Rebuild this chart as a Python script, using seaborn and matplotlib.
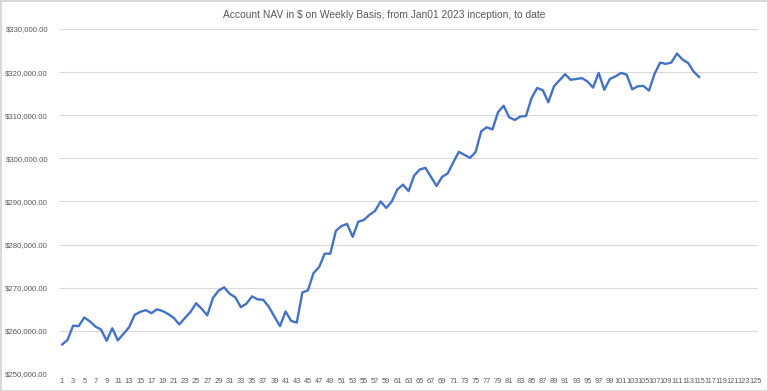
"""Account NAV line chart, weekly basis (Excel-style look)."""

import matplotlib
matplotlib.use("Agg")
import matplotlib.pyplot as plt
from matplotlib.ticker import FuncFormatter
import numpy as np
import pandas as pd
import seaborn as sns

TITLE = "Account NAV in $ on Weekly Basis, from Jan01 2023 inception, to date"

# weekly NAV values (weeks 1..115)
nav = [
    256800, 257900, 261200, 261100, 263100, 262200, 261000, 260300, 257700, 260600,
    257800, 259300, 260800, 263700, 264400, 264800, 264100, 265000, 264600, 263900,
    263000, 261500, 263000, 264400, 266400, 265100, 263600, 267600, 269300, 270100,
    268600, 267800, 265500, 266300, 268000, 267300, 267200, 265600, 263300, 261100,
    264500, 262300, 261900, 268900, 269400, 273400, 274800, 277900, 277900, 283200,
    284300, 284800, 281800, 285300, 285700, 286900, 287800, 290000, 288500, 290000,
    292800, 293900, 292400, 296000, 297400, 297800, 295700, 293600, 295700, 296500,
    299100, 301500, 300800, 300100, 301500, 306300, 307200, 306700, 310700, 312200,
    309500, 308900, 309700, 309800, 314000, 316300, 315800, 313000, 316700, 318100,
    319500, 318200, 318400, 318600, 317800, 316400, 319800, 315900, 318400, 319000,
    319800, 319400, 316000, 316700, 316800, 315700, 319600, 322200, 321900, 322200,
    324300, 322900, 322100, 320100, 318800,
]
weeks = list(range(1, len(nav) + 1))
xtick_labels = list(range(1, 126, 2))
ytick_values = list(range(250000, 330001, 10000))

df = pd.DataFrame({"week": weeks, "nav": nav})

sns.set_style("white")
plt.rcParams["font.family"] = ["Liberation Sans", "DejaVu Sans"]

fig = plt.figure(figsize=(7.68, 3.91), dpi=100)
ax = fig.add_axes([0.077, 0.0435, 0.91, 0.8825])

sns.lineplot(data=df, x="week", y="nav", ax=ax, color="#4472C4", linewidth=1.7)

ax.set_xlim(0.5, 125.5)
ax.set_ylim(250000, 330000)
ax.set_yticks(ytick_values)
ax.yaxis.set_major_formatter(FuncFormatter(lambda v, _: f"${v:,.2f}"))
ax.set_xticks(xtick_labels)
ax.set_xticklabels([str(t) for t in xtick_labels])
ax.tick_params(axis="y", labelsize=5.6, colors="#595959", length=0, pad=8)
ax.tick_params(axis="x", labelsize=5.3, colors="#595959", length=0, pad=3)

ax.grid(axis="y", color="#d9d9d9", linewidth=0.8)
ax.grid(axis="x", visible=False)
for s in ax.spines.values():
    s.set_visible(False)
ax.set_xlabel("")
ax.set_ylabel("")

fig.text(0.5, 0.962, TITLE, ha="center", va="center", fontsize=7.4, color="#595959")

fig.patch.set_edgecolor("#d9d9d9")
fig.patch.set_linewidth(1)

fig.savefig("out.png", dpi=100)
